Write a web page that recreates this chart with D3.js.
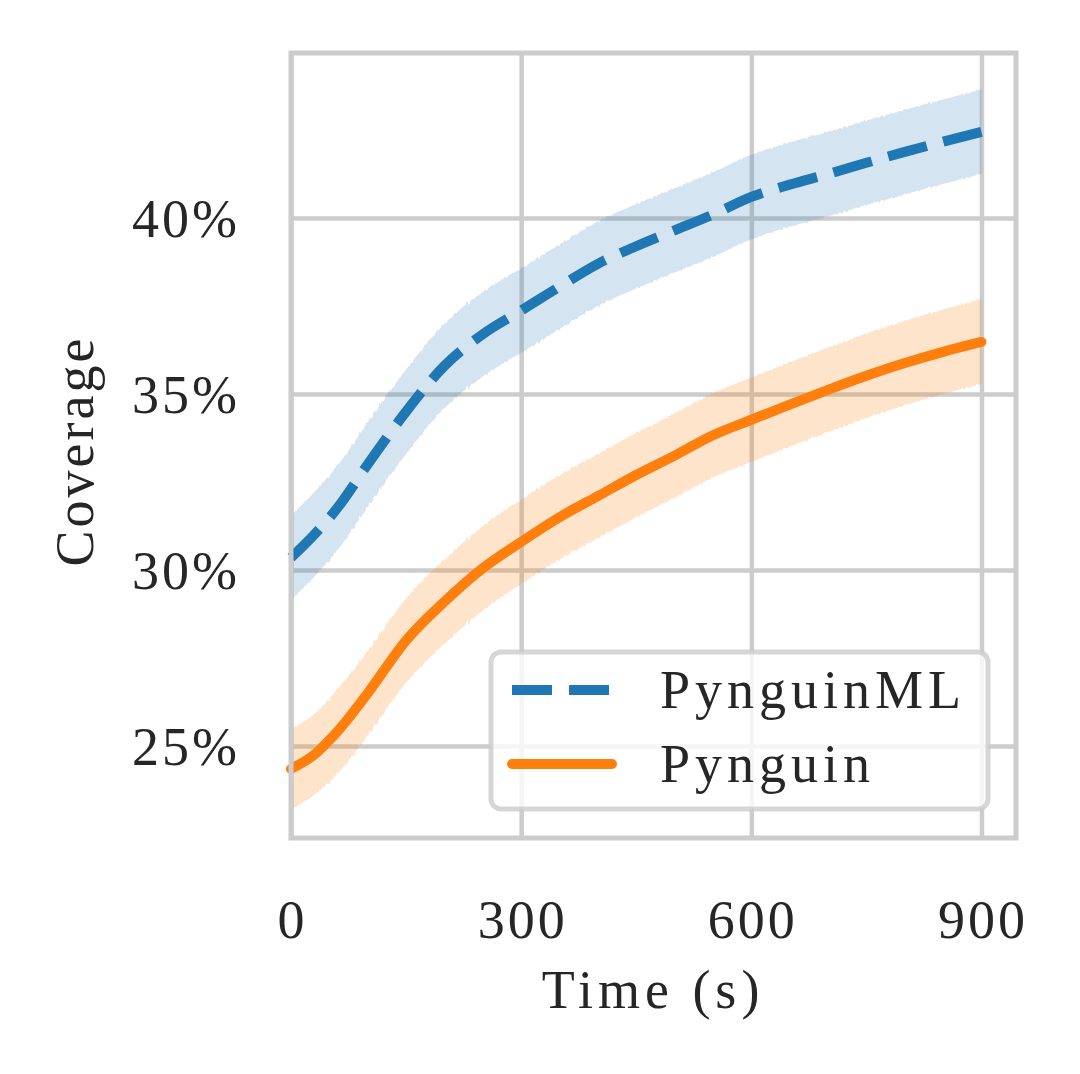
<!DOCTYPE html>
<html>
<head>
<meta charset="utf-8">
<script src="https://cdn.jsdelivr.net/npm/d3@7"></script>
<style>
  html, body { margin: 0; padding: 0; background: #fff; }
  text { font-family: "Liberation Serif", "DejaVu Serif", serif; fill: #262626; }
</style>
</head>
<body>
<div id="graph"></div>
<script>

var margin = {top: 53, right: 64, bottom: 236, left: 291};
var width = 1080 - margin.left - margin.right,
    height = 1074 - margin.top - margin.bottom;

// data
var times = [0, 30, 60, 100, 150, 200, 250, 300, 350, 400, 450, 500, 550, 600, 650, 700, 750, 800, 850, 900];

var mlMean  = [30.35, 31.0, 31.75, 33.0, 34.5, 35.8, 36.7, 37.37, 38.05, 38.7, 39.2, 39.65, 40.1, 40.6, 40.95, 41.25, 41.57, 41.88, 42.17, 42.45];
var mlLow   = [29.15, 29.8, 30.55, 31.8, 33.3, 34.6, 35.5, 36.17, 36.85, 37.5, 38.0, 38.45, 38.9, 39.4, 39.75, 40.05, 40.37, 40.68, 40.97, 41.25];
var mlHigh  = [31.55, 32.2, 32.95, 34.2, 35.7, 37.0, 37.9, 38.57, 39.25, 39.9, 40.4, 40.85, 41.3, 41.8, 42.15, 42.45, 42.77, 43.08, 43.37, 43.65];

var pyMean  = [24.35, 24.75, 25.4, 26.5, 28.0, 29.1, 30.05, 30.8, 31.5, 32.1, 32.7, 33.25, 33.83, 34.27, 34.7, 35.12, 35.52, 35.88, 36.2, 36.48];
var pyLow   = [23.2, 23.6, 24.2, 25.3, 26.8, 27.9, 28.85, 29.6, 30.3, 30.9, 31.5, 32.05, 32.63, 33.07, 33.5, 33.92, 34.32, 34.68, 35.0, 35.28];
var pyHigh  = [25.5, 25.9, 26.6, 27.7, 29.2, 30.3, 31.25, 32.0, 32.7, 33.3, 33.9, 34.45, 35.03, 35.47, 35.9, 36.32, 36.72, 37.08, 37.4, 37.7];

var xTicks = [0, 300, 600, 900];
var yTicks = [25, 30, 35, 40];

var seriesNames = ["PynguinML", "Pynguin"];
var colors = ["#1f77b4", "#ff7f0e"];

var svg = d3.select("#graph").append("svg")
    .attr("width", width + margin.left + margin.right)
    .attr("height", height + margin.top + margin.bottom)
  .append("g")
    .attr("transform", "translate(" + margin.left + "," + margin.top + ")");

// rough edge for the confidence bands (noise only varies along x)
var defs = d3.select("svg").append("defs");
var f = defs.append("filter").attr("id", "rough")
    .attr("x", "-2%").attr("y", "-5%").attr("width", "104%").attr("height", "110%");
f.append("feTurbulence").attr("type", "fractalNoise").attr("baseFrequency", "0.4 0")
    .attr("numOctaves", 1).attr("seed", 3).attr("result", "noise");
f.append("feDisplacementMap").attr("in", "SourceGraphic").attr("in2", "noise")
    .attr("scale", 5).attr("xChannelSelector", "B").attr("yChannelSelector", "G");

var x = d3.scaleLinear().domain([0, 945]).range([0, width]);
var y = d3.scaleLinear().domain([22.386, 44.69]).range([height, 0]);

// grid
svg.append("g").attr("class", "grid")
  .call(d3.axisBottom(x).tickValues(xTicks).tickSize(-height).tickFormat(""))
  .attr("transform", "translate(0," + height + ")")
  .call(function(g) {
    g.select(".domain").remove();
    g.selectAll("line").attr("stroke", "#cccccc").attr("stroke-width", 4.5);
  });
svg.append("g").attr("class", "grid")
  .call(d3.axisLeft(y).tickValues(yTicks).tickSize(-width).tickFormat(""))
  .call(function(g) {
    g.select(".domain").remove();
    g.selectAll("line").attr("stroke", "#cccccc").attr("stroke-width", 4.5);
  });

var series = [
  {name: seriesNames[0], mean: mlMean, low: mlLow, high: mlHigh, color: colors[0], dash: "40,17", cap: "butt"},
  {name: seriesNames[1], mean: pyMean, low: pyLow, high: pyHigh, color: colors[1], dash: null, cap: "round"}
];

var area = d3.area()
    .x(function(d) { return x(d.t); })
    .y0(function(d) { return y(d.lo); })
    .y1(function(d) { return y(d.hi); })
    .curve(d3.curveMonotoneX);

var line = d3.line()
    .x(function(d) { return x(d.t); })
    .y(function(d) { return y(d.v); })
    .curve(d3.curveMonotoneX);

series.forEach(function(s) {
  var pts = times.map(function(t, i) { return {t: t, v: s.mean[i], lo: s.low[i], hi: s.high[i]}; });
  svg.append("path").datum(pts)
    .attr("d", area)
    .attr("fill", s.color)
    .attr("fill-opacity", 0.2)
    .attr("filter", "url(#rough)");
});

series.forEach(function(s) {
  var pts = times.map(function(t, i) { return {t: t, v: s.mean[i]}; });
  svg.append("path").datum(pts)
    .attr("d", line)
    .attr("fill", "none")
    .attr("stroke", s.color)
    .attr("stroke-width", 10)
    .attr("stroke-linecap", s.cap)
    .attr("stroke-dasharray", s.dash);
});

// frame
svg.append("rect")
  .attr("x", 0).attr("y", 0).attr("width", width).attr("height", height)
  .attr("fill", "none").attr("stroke", "#cccccc").attr("stroke-width", 5);

// tick labels
svg.append("g").selectAll("text").data(xTicks).enter().append("text")
  .attr("x", function(d) { return x(d) + 1.5; })
  .attr("y", height + 100)
  .attr("text-anchor", "middle")
  .attr("font-size", 54)
  .attr("letter-spacing", 3)
  .text(function(d) { return d; });

svg.append("g").selectAll("text").data(yTicks).enter().append("text")
  .attr("x", -51)
  .attr("y", function(d) { return y(d) + 19; })
  .attr("text-anchor", "end")
  .attr("font-size", 54)
  .attr("letter-spacing", 3)
  .text(function(d) { return d + "%"; });

// axis labels
svg.append("text")
  .attr("x", x(472))
  .attr("y", height + 170)
  .attr("text-anchor", "middle")
  .attr("font-size", 54)
  .attr("letter-spacing", 5)
  .text("Time (s)");

svg.append("text")
  .attr("transform", "translate(" + (93 - margin.left) + "," + (451 - margin.top) + ") rotate(-90)")
  .attr("text-anchor", "middle")
  .attr("font-size", 54)
  .attr("letter-spacing", 3)
  .text("Coverage");

// legend
var lg = svg.append("g").attr("transform", "translate(" + (491 - margin.left) + "," + (652 - margin.top) + ")");
lg.append("rect")
  .attr("width", 497).attr("height", 157).attr("rx", 10)
  .attr("fill", "#fff").attr("fill-opacity", 0.8)
  .attr("stroke", "#cccccc").attr("stroke-opacity", 0.8).attr("stroke-width", 5);

series.forEach(function(s, i) {
  var yy = 38 + i * 74;
  lg.append("line")
    .attr("x1", 21).attr("x2", s.cap == "round" ? 121 : 119)
    .attr("y1", yy).attr("y2", yy)
    .attr("stroke", s.color).attr("stroke-width", 10)
    .attr("stroke-linecap", s.cap)
    .attr("stroke-dasharray", s.dash);
  lg.append("text")
    .attr("x", 169).attr("y", yy + 18)
    .attr("font-size", 54)
    .attr("letter-spacing", 5)
    .text(s.name);
});

</script>
</body>
</html>
